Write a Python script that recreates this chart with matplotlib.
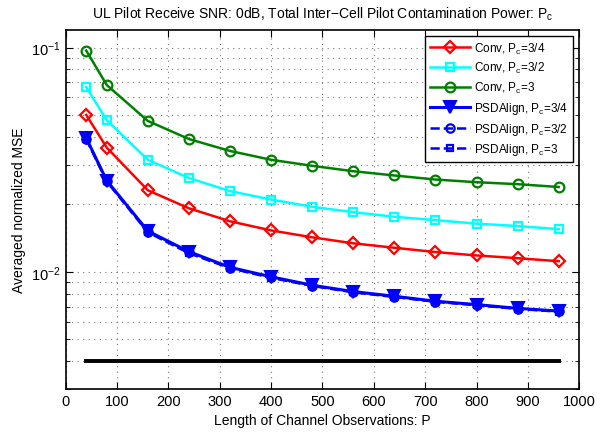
import matplotlib
matplotlib.use("Agg")
import matplotlib.pyplot as plt
from matplotlib.ticker import LogLocator, NullFormatter, FixedLocator

plt.rcParams['font.family'] = ['Liberation Sans', 'DejaVu Sans']
plt.rcParams['mathtext.fontset'] = 'custom'
plt.rcParams['mathtext.rm'] = 'Liberation Sans'
plt.rcParams['mathtext.it'] = 'Liberation Sans'

P = [40, 80, 160, 240, 320, 400, 480, 560, 640, 720, 800, 880, 960]
conv_34 = [0.0501, 0.0358, 0.0231, 0.0192, 0.0168, 0.0153, 0.01425, 0.0134, 0.0128, 0.01225, 0.01183, 0.0115, 0.01115]
conv_32 = [0.0667, 0.0474, 0.0316, 0.0262, 0.0229, 0.0210, 0.0195, 0.01845, 0.0176, 0.0170, 0.0164, 0.0160, 0.0155]
conv_3 = [0.0970, 0.0681, 0.0471, 0.0391, 0.0346, 0.0316, 0.0297, 0.0281, 0.0269, 0.0258, 0.0251, 0.0246, 0.0239]
psd_34 = [0.0395, 0.0255, 0.0152, 0.0123, 0.01047, 0.0095, 0.00871, 0.00816, 0.00778, 0.00739, 0.00714, 0.00687, 0.00668]
psd_32 = [0.0393, 0.0254, 0.0151, 0.0122, 0.01042, 0.00945, 0.00868, 0.00813, 0.00775, 0.00737, 0.00712, 0.00685, 0.00666]
psd_3 = [0.0391, 0.0253, 0.0150, 0.0121, 0.01038, 0.0094, 0.00865, 0.0081, 0.00772, 0.00735, 0.0071, 0.00683, 0.00664]
bound_x = [40, 960]
bound_y = [0.004, 0.004]

fig = plt.figure(figsize=(6.11, 4.35), dpi=100)
ax = fig.add_axes([0.1075, 0.1034, 0.8405, 0.8256])

lw = 1.8
ax.plot(P, conv_34, color='red', lw=lw, marker='D', ms=6, mfc='none', mew=1.6,
        label=r'Conv, P$_\mathregular{c}$=3/4')
ax.plot(P, conv_32, color='cyan', lw=lw, marker='s', ms=6, mfc='none', mew=1.6,
        label=r'Conv, P$_\mathregular{c}$=3/2')
ax.plot(P, conv_3, color='green', lw=lw, marker='o', ms=7, mfc='none', mew=1.6,
        label=r'Conv, P$_\mathregular{c}$=3')
ax.plot(P, psd_34, color='blue', lw=lw + 0.4, marker='v', ms=8, mfc='blue', mew=1.5,
        label=r'PSDAlign, P$_\mathregular{c}$=3/4')
ax.plot(P, psd_32, color='blue', lw=lw, ls='--', marker='o', ms=6, mfc='none', mew=1.6,
        label=r'PSDAlign, P$_\mathregular{c}$=3/2')
ax.plot(P, psd_3, color='blue', lw=lw, ls='--', marker='s', ms=5, mfc='none', mew=1.6,
        label=r'PSDAlign, P$_\mathregular{c}$=3')
ax.plot(bound_x, bound_y, color='black', lw=2.8)

ax.set_yscale('log')
ax.set_xlim(0, 1000)
ax.set_ylim(0.003, 0.12)
ax.set_xticks(range(0, 1001, 100))
ax.yaxis.set_major_locator(FixedLocator([0.01, 0.1]))
ax.yaxis.set_minor_locator(LogLocator(base=10, subs=range(2, 10)))
ax.yaxis.set_minor_formatter(NullFormatter())

gstyle = dict(ls=(0, (1, 4)), color='#777777', lw=0.8)
ax.grid(True, which='major', **gstyle)
ax.grid(True, which='minor', axis='y', **gstyle)
ax.set_axisbelow(True)
ax.tick_params(which='both', direction='in', top=True, right=True, labelsize=10.5)
ax.tick_params(which='major', length=5)
ax.tick_params(which='minor', length=3)
for s in ax.spines.values():
    s.set_linewidth(1.2)

ax.set_xlabel('Length of Channel Observations: P', fontsize=10)
ax.set_ylabel('Averaged normalized MSE', fontsize=10)
ax.set_title('UL Pilot Receive SNR: 0dB, Total Inter\u2212Cell Pilot Contamination Power: P$_\\mathregular{c}$',
             fontsize=10, pad=9)

leg = ax.legend(loc='upper right', fontsize=8.5, frameon=True, fancybox=False,
                edgecolor='black', framealpha=1, handlelength=3.4, borderpad=0.4,
                labelspacing=0.4, handletextpad=0.4, borderaxespad=0.5)
leg.get_frame().set_linewidth(1.0)

fig.savefig('out.png', dpi=100)
